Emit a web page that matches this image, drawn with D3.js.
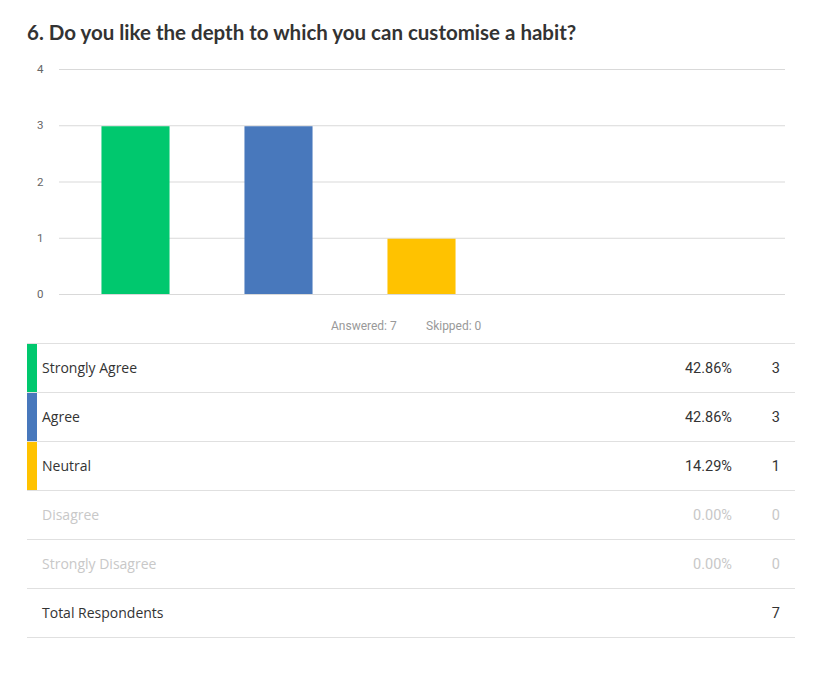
<!DOCTYPE html>
<html><head><meta charset="utf-8">
<script src="https://cdn.jsdelivr.net/npm/d3@7"></script>
<style>body{margin:0;background:#fff;}</style>
</head><body>
<svg id="c" width="832" height="676"></svg>
<script>
const title = "6. Do you like the depth to which you can customise a habit?";
const categories = ["Strongly Agree","Agree","Neutral","Disagree","Strongly Disagree"];
const counts = [3,3,1,0,0];
const percents = ["42.86%","42.86%","14.29%","0.00%","0.00%"];
const colors = ["#00c86e","#4878bc","#ffc200","#cccccc","#cccccc"];
const yTicks = [0,1,2,3,4];
const answered = 7, skipped = 0, totalRespondents = 7;

const svg = d3.select("#c");
svg.append("text").attr("x",27).attr("y",40).text(title)
  .attr("font-family","Lato, 'Open Sans', sans-serif").attr("font-weight",700)
  .attr("font-size",20.5).attr("fill","#333");

const y = d3.scaleLinear().domain([0,4]).range([294,69]);
const x = d3.scaleBand().domain(categories).range([64,779]).paddingInner(0.524).paddingOuter(0.262);

const g = svg.append("g");
g.selectAll("line.grid").data(yTicks).join("line").attr("class","grid")
  .attr("x1",59).attr("x2",785).attr("y1",d=>y(d)+0.5).attr("y2",d=>y(d)+0.5)
  .attr("stroke","#d9d9d9").attr("stroke-width",1);
g.selectAll("text.yt").data(yTicks).join("text").attr("class","yt")
  .attr("x",37).attr("y",d=>y(d)+4).text(d=>d)
  .attr("font-family","Roboto, sans-serif").attr("font-size",11.5).attr("fill","#666");
g.selectAll("rect.bar").data(categories).join("rect").attr("class","bar")
  .attr("x",d=>x(d)).attr("width",x.bandwidth())
  .attr("y",(d,i)=>y(counts[i])+1).attr("height",(d,i)=>Math.max(0,y(0)-y(counts[i])-1))
  .attr("fill",(d,i)=>colors[i]);

svg.append("text").attr("x",331).attr("y",330).text("Answered: "+answered)
  .attr("font-family","Roboto, sans-serif").attr("font-size",12).attr("fill","#999");
svg.append("text").attr("x",426).attr("y",330).text("Skipped: "+skipped)
  .attr("font-family","Roboto, sans-serif").attr("font-size",12).attr("fill","#999");

// table
const rowTop = 343, rowH = 49;
const rows = categories.map((c,i)=>({label:c, pct:percents[i], n:counts[i], color:colors[i], active:counts[i]>0}));
rows.push({label:"Total Respondents", pct:"", n:totalRespondents, color:null, active:true, total:true});
const t = svg.append("g");
t.selectAll("line.rl").data(d3.range(rows.length+1)).join("line").attr("class","rl")
  .attr("x1",27).attr("x2",795).attr("y1",d=>rowTop+d*rowH+0.5).attr("y2",d=>rowTop+d*rowH+0.5)
  .attr("stroke","#e0e0e0");
rows.forEach((r,i)=>{
  const top = rowTop+i*rowH;
  if(r.active && r.color) t.append("rect").attr("x",27).attr("y",top+1).attr("width",10).attr("height",rowH-1).attr("fill",r.color);
  const fc = r.active ? "#333" : "#c8c8c8";
  t.append("text").attr("x",42).attr("y",top+30).text(r.label)
    .attr("font-family","'Open Sans', sans-serif").attr("font-size",14).attr("fill",fc);
  t.append("text").attr("x",732).attr("y",top+30).attr("text-anchor","end").text(r.pct)
    .attr("font-family","Roboto, sans-serif").attr("font-size",14.5).attr("fill",fc);
  t.append("text").attr("x",780).attr("y",top+30).attr("text-anchor","end").text(r.n)
    .attr("font-family","Roboto, sans-serif").attr("font-size",14.5).attr("fill",fc);
});
</script>
</body></html>
